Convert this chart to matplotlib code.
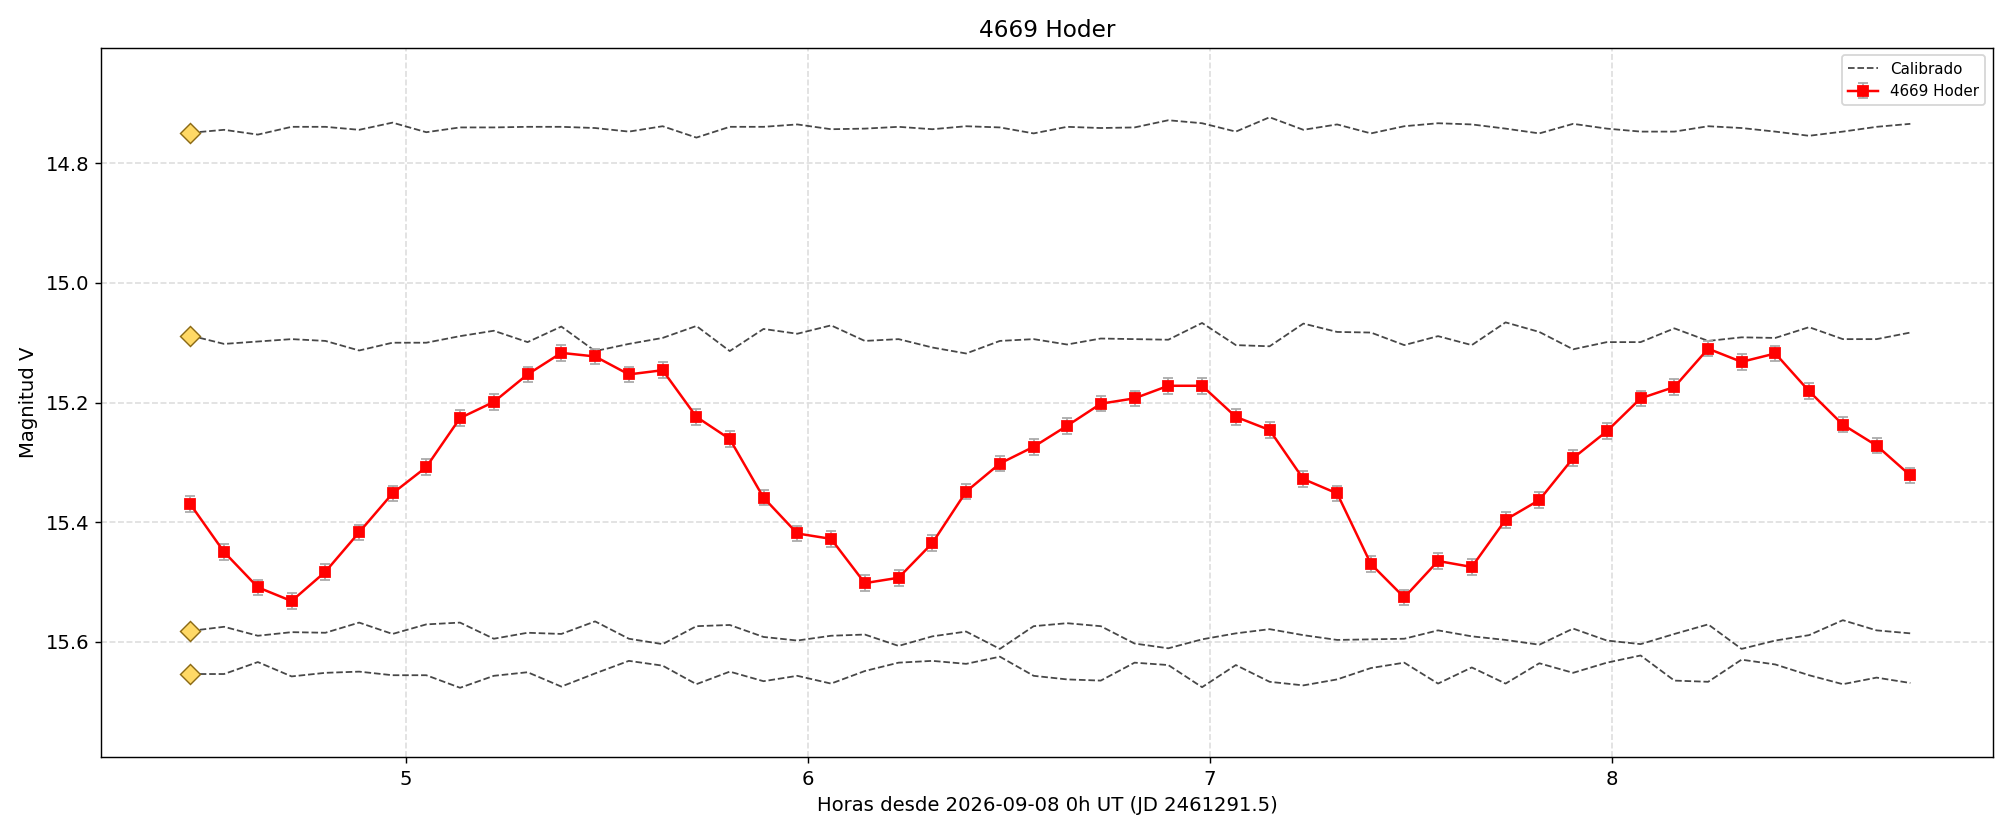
import matplotlib
matplotlib.use('Agg')
import matplotlib.pyplot as plt

# Hours since 2026-09-08 0h UT
hours = [4.464, 4.548, 4.632, 4.716, 4.800, 4.884, 4.967, 5.051, 5.135, 5.219,
         5.303, 5.387, 5.471, 5.555, 5.639, 5.723, 5.806, 5.890, 5.974, 6.058,
         6.142, 6.226, 6.310, 6.394, 6.478, 6.562, 6.645, 6.729, 6.813, 6.897,
         6.981, 7.065, 7.149, 7.233, 7.317, 7.401, 7.484, 7.568, 7.652, 7.736,
         7.820, 7.904, 7.988, 8.072, 8.156, 8.240, 8.323, 8.407, 8.491, 8.575,
         8.659, 8.743]

# Target asteroid magnitudes
target_mag = [15.370, 15.450, 15.509, 15.532, 15.483, 15.417, 15.352, 15.308, 15.226, 15.199,
              15.153, 15.117, 15.123, 15.153, 15.146, 15.224, 15.261, 15.359, 15.419, 15.428,
              15.502, 15.493, 15.435, 15.349, 15.302, 15.274, 15.239, 15.202, 15.193, 15.172,
              15.172, 15.224, 15.246, 15.328, 15.352, 15.470, 15.526, 15.465, 15.475, 15.396,
              15.363, 15.293, 15.248, 15.193, 15.174, 15.110, 15.132, 15.118, 15.181, 15.237,
              15.272, 15.322]
target_err = [0.013] * len(target_mag)

# Calibrated comparison stars
comp1 = [14.749, 14.744, 14.752, 14.739, 14.739, 14.744, 14.732, 14.748, 14.740, 14.740,
         14.739, 14.739, 14.741, 14.747, 14.738, 14.757, 14.739, 14.739, 14.735, 14.743,
         14.742, 14.739, 14.743, 14.738, 14.740, 14.750, 14.739, 14.741, 14.740, 14.728,
         14.733, 14.747, 14.723, 14.744, 14.735, 14.750, 14.738, 14.733, 14.735, 14.742,
         14.750, 14.734, 14.742, 14.747, 14.747, 14.738, 14.741, 14.747, 14.754, 14.747,
         14.739, 14.734]
comp2 = [15.088, 15.102, 15.098, 15.094, 15.097, 15.113, 15.100, 15.100, 15.089, 15.080,
         15.099, 15.073, 15.114, 15.102, 15.092, 15.072, 15.114, 15.077, 15.085, 15.071,
         15.097, 15.094, 15.108, 15.118, 15.097, 15.094, 15.103, 15.093, 15.094, 15.095,
         15.067, 15.104, 15.106, 15.068, 15.082, 15.083, 15.104, 15.089, 15.104, 15.066,
         15.082, 15.111, 15.099, 15.099, 15.076, 15.097, 15.091, 15.092, 15.074, 15.094,
         15.094, 15.083]
comp3 = [15.582, 15.575, 15.590, 15.584, 15.585, 15.568, 15.587, 15.571, 15.568, 15.595,
         15.585, 15.587, 15.566, 15.595, 15.604, 15.574, 15.572, 15.592, 15.598, 15.590,
         15.588, 15.607, 15.591, 15.583, 15.612, 15.574, 15.569, 15.574, 15.603, 15.611,
         15.596, 15.586, 15.579, 15.589, 15.597, 15.596, 15.595, 15.581, 15.591, 15.597,
         15.605, 15.578, 15.598, 15.604, 15.587, 15.571, 15.612, 15.598, 15.589, 15.564,
         15.581, 15.586]
comp4 = [15.654, 15.654, 15.634, 15.658, 15.652, 15.650, 15.656, 15.656, 15.677, 15.657,
         15.651, 15.675, 15.653, 15.632, 15.640, 15.671, 15.650, 15.666, 15.657, 15.670,
         15.649, 15.635, 15.632, 15.637, 15.625, 15.657, 15.663, 15.665, 15.635, 15.639,
         15.676, 15.639, 15.667, 15.673, 15.663, 15.644, 15.635, 15.670, 15.643, 15.670,
         15.636, 15.652, 15.635, 15.623, 15.665, 15.667, 15.630, 15.638, 15.656, 15.671,
         15.660, 15.669]
comps = [comp1, comp2, comp3, comp4]

fig, ax = plt.subplots(figsize=(15.68, 6.5), dpi=2012 / 15.68)

for k, c in enumerate(comps):
    ax.plot(hours, c, '--', color='#333333', lw=1.0, alpha=0.9,
            label='Calibrado' if k == 0 else None)
    ax.plot(hours[0], c[0], 'D', ms=8, mfc='#FFD966', mec='#8B6914', mew=0.8, zorder=4)

ax.errorbar(hours, target_mag, yerr=target_err, fmt='-s', color='red', ms=5.5, lw=1.4,
            ecolor='#aaaaaa', elinewidth=1, capsize=3, label='4669 Hoder', zorder=5)

ax.set_xlim(4.243, 8.948)
ax.set_ylim(15.793, 14.607)
ax.set_yticks([14.8, 15.0, 15.2, 15.4, 15.6])
ax.set_xticks([5, 6, 7, 8])
ax.grid(True, ls='--', color='#dddddd', lw=0.9)
ax.set_title('4669 Hoder', fontsize=13)
ax.set_xlabel('Horas desde 2026-09-08 0h UT (JD 2461291.5)', fontsize=11)
ax.set_ylabel('Magnitud V', fontsize=11)
ax.tick_params(labelsize=11)
ax.legend(loc='upper right', fontsize=8.5)

plt.tight_layout()
plt.savefig('out.png')
